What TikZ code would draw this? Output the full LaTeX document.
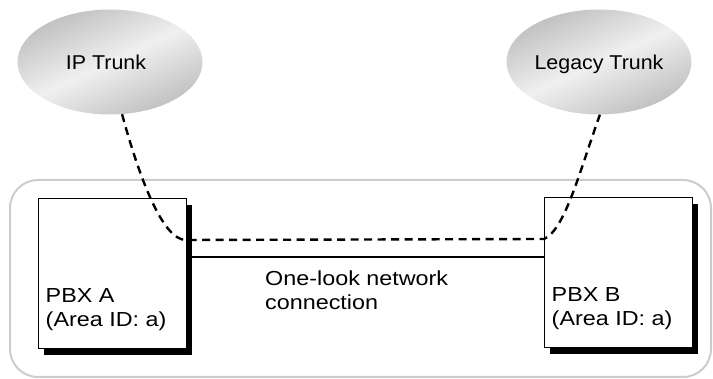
\documentclass[tikz,border=0pt]{standalone}
\usepackage{fontspec}
\setmainfont{Liberation Sans}
\usetikzlibrary{shapes.geometric}
\begin{document}
\begin{tikzpicture}[x=1pt,y=-1pt,
  cloud/.style={ellipse, minimum width=185pt, minimum height=105pt, inner sep=0pt,
    left color=gray!50, right color=gray!50, middle color=gray!12, shading angle=25},
  pbx/.style={draw=black, line width=1pt, fill=white, minimum width=148pt, minimum height=150pt, inner sep=0pt},
  shadowbox/.style={fill=black, minimum width=148pt, minimum height=150pt, inner sep=0pt},
  lbl/.style={font=\fontsize{20.3}{24}\selectfont, xscale=1.15, inner sep=0pt, align=left},
  tlbl/.style={font=\fontsize{20}{24}\selectfont, xscale=1.07, inner sep=0pt},
  trunk/.style={line width=2.4pt, dash pattern=on 8pt off 5.5pt},
  link/.style={line width=2.2pt}
]
\useasboundingbox (0,0) rectangle (713,379);
% outer area
\draw[gray!40, line width=2pt, rounded corners=28pt] (10,180) rectangle (711,377);
% trunk clouds
\node[cloud] (ipt) at (110,62) {};
\node[cloud] (lt) at (599,62) {};
\node[tlbl, anchor=base] (iptl) at (106,70) {IP Trunk};
\node[tlbl, anchor=base] (ltl) at (599,70) {Legacy Trunk};
% PBX boxes with shadows
\node[shadowbox] (sha) at (118,280) {};
\node[shadowbox] (shb) at (624,279) {};
\node[pbx] (pbxa) at (112,274) {};
\node[pbx] (pbxb) at (618,273) {};
\node[lbl, anchor=north west] (la) at (45.5,288.7) {PBX A\\(Area ID: a)};
\node[lbl, anchor=north west] (lb) at (551.5,287.7) {PBX B\\(Area ID: a)};
% connections
\coordinate (ca) at (186,240);
\coordinate (cb) at (544,239);
\draw[trunk] (ipt.-77) .. controls (140,180) and (163,240) .. (ca) -- (cb)
  .. controls (565,230) and (580,170) .. (lt.-89);
\draw[link] (sha.east |- 0,257) -- (pbxb.west |- 0,257);
\node[lbl, anchor=north west] (net) at (265,271) {One-look network\\connection};
\end{tikzpicture}
\end{document}
